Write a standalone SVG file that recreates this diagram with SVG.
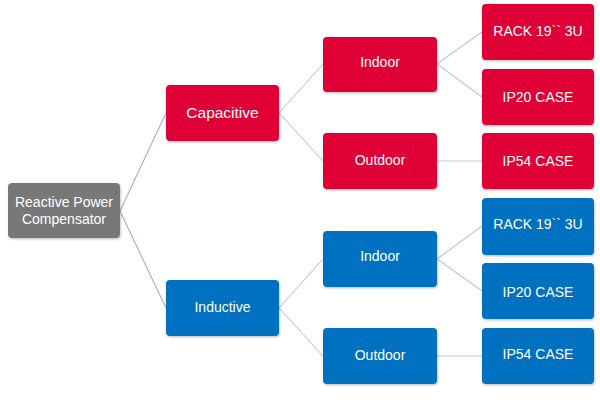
<svg xmlns="http://www.w3.org/2000/svg" width="600" height="407" viewBox="0 0 600 407">
<defs>
<filter id="sh" x="-10%" y="-10%" width="130%" height="140%">
<feDropShadow dx="0.8" dy="1.2" stdDeviation="1" flood-color="#000" flood-opacity="0.25"/>
</filter>
</defs>
<style>
.box{filter:url(#sh)}
.red{fill:#df0035}
.blue{fill:#0070c0}
.gray{fill:#787878}
text{font-family:"Liberation Sans",Arial,sans-serif;font-size:14px;fill:#fff;text-anchor:middle;dominant-baseline:central}
.lines line{stroke:#c3c3df;stroke-width:1.1}
.lines .root{stroke:#a8a8d4}
</style>
<rect width="600" height="407" fill="#fff"/>
<g class="lines" id="connectors">
<line class="root" x1="120" y1="211" x2="166" y2="113"/>
<line class="root" x1="120" y1="211" x2="166" y2="308"/>
<line x1="279" y1="113" x2="323" y2="64"/>
<line x1="279" y1="113" x2="323" y2="161"/>
<line x1="437" y1="64" x2="482" y2="32"/>
<line x1="437" y1="64" x2="482" y2="97"/>
<line x1="437" y1="161" x2="482" y2="161"/>
<line x1="279" y1="308" x2="323" y2="259"/>
<line x1="279" y1="308" x2="323" y2="356"/>
<line x1="437" y1="259" x2="482" y2="226"/>
<line x1="437" y1="259" x2="482" y2="291"/>
<line x1="437" y1="356" x2="482" y2="356"/>
</g>
<g id="root"><rect class="box gray" x="8" y="183" width="112" height="55" rx="4"/><text x="64" y="202">Reactive Power</text><text x="64" y="219">Compensator</text></g>
<g id="capacitive"><rect class="box red" x="166" y="85" width="113" height="56" rx="4"/><text x="222.5" y="112" style="font-size:15.5px">Capacitive</text></g>
<g id="cap-indoor"><rect class="box red" x="323" y="37" width="114" height="55" rx="4"/><text x="380" y="62">Indoor</text></g>
<g id="cap-outdoor"><rect class="box red" x="323" y="133" width="114" height="56" rx="4"/><text x="380" y="160">Outdoor</text></g>
<g id="cap-rack"><rect class="box red" x="482" y="4" width="112" height="56" rx="4"/><text x="538" y="31">RACK 19`` 3U</text></g>
<g id="cap-ip20"><rect class="box red" x="482" y="69" width="112" height="56" rx="4"/><text x="538" y="97">IP20 CASE</text></g>
<g id="cap-ip54"><rect class="box red" x="482" y="133" width="112" height="56" rx="4"/><text x="538" y="161">IP54 CASE</text></g>
<g id="inductive"><rect class="box blue" x="166" y="280" width="113" height="56" rx="4"/><text x="222.5" y="307">Inductive</text></g>
<g id="ind-indoor"><rect class="box blue" x="323" y="231" width="114" height="56" rx="4"/><text x="380" y="256">Indoor</text></g>
<g id="ind-outdoor"><rect class="box blue" x="323" y="328" width="114" height="56" rx="4"/><text x="380" y="355">Outdoor</text></g>
<g id="ind-rack"><rect class="box blue" x="482" y="198" width="112" height="57" rx="4"/><text x="538" y="224">RACK 19`` 3U</text></g>
<g id="ind-ip20"><rect class="box blue" x="482" y="263" width="112" height="56" rx="4"/><text x="538" y="292">IP20 CASE</text></g>
<g id="ind-ip54"><rect class="box blue" x="482" y="328" width="112" height="56" rx="4"/><text x="538" y="354">IP54 CASE</text></g>
</svg>
